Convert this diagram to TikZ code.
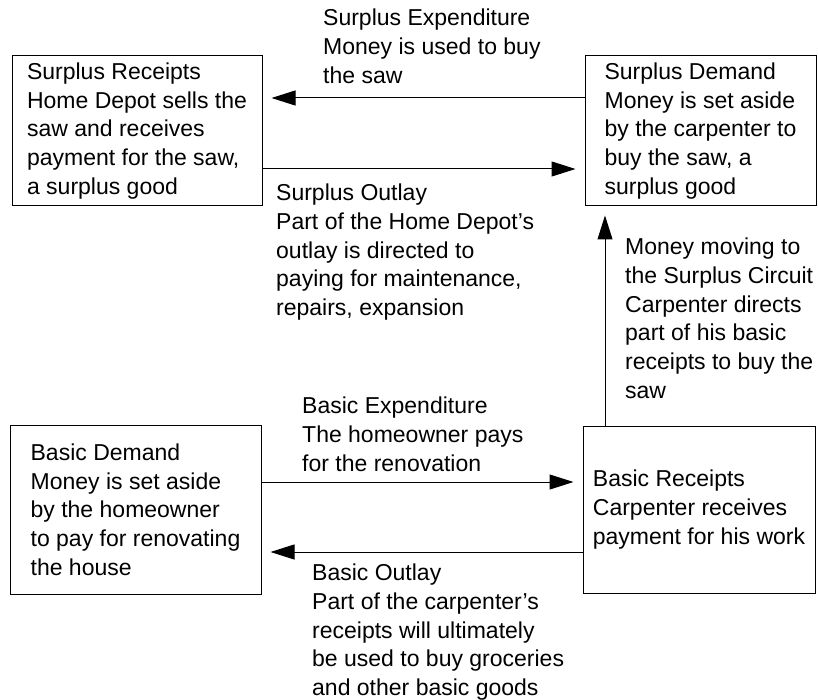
\documentclass[tikz,border=0pt]{standalone}
\usepackage{fontspec}
\setmainfont{Liberation Sans}
\usetikzlibrary{arrows.meta}

\begin{document}
\begin{tikzpicture}[x=1pt, y=-1pt,
    box/.style={draw, line width=1pt, align=left, font=\fontsize{23}{28.7}\selectfont},
    note/.style={anchor=north west, inner sep=0pt, align=left, font=\fontsize{23}{28.7}\selectfont},
    flow/.style={line width=1pt, -{Triangle[length=24pt,width=15pt]}, shorten >=9pt}]
    \useasboundingbox (0,0) rectangle (818,700);

    % Define the four boxes of the two circuits
    \node[box, minimum width=250pt, minimum height=150pt] (sreceipts) at (137,131) {Surplus Receipts\\Home Depot sells the\\saw and receives\\payment for the saw,\\a surplus good};
    \node[box, minimum width=231pt, minimum height=150pt] (sdemand) at (700.5,131) {Surplus Demand\\Money is set aside\\by the carpenter to\\buy the saw, a\\surplus good};
    \node[box, minimum width=251pt, minimum height=169pt] (bdemand) at (135.5,509.5) {Basic Demand\\Money is set aside\\by the homeowner\\to pay for renovating\\the house};
    \node[box, minimum width=232pt, minimum height=167pt] (breceipts) at (699,509.5) {Basic Receipts\\Carpenter receives\\payment for his work};

    % Draw the money flows between the boxes
    \draw[flow] ([yshift=33pt]sdemand.west) -- ([yshift=33pt]sreceipts.east);
    \draw[flow] ([yshift=-38pt]sreceipts.east) -- ([yshift=-38pt]sdemand.west);
    \draw[flow] ([xshift=-94pt]breceipts.north) -- ([xshift=-94pt]breceipts.north |- sdemand.south);
    \draw[flow] ([yshift=27.5pt]bdemand.east) -- ([yshift=27.5pt]breceipts.west);
    \draw[flow] ([yshift=-42.5pt]breceipts.west) -- ([yshift=-42.5pt]bdemand.east);

    % Texts along the flows
    \node[note] (sexp) at (323,9) {Surplus Expenditure\\Money is used to buy\\the saw};
    \node[note] (sout) at (276,184) {Surplus Outlay\\Part of the Home Depot's\\outlay is directed to\\paying for maintenance,\\repairs, expansion};
    \node[note] (move) at (625,238) {Money moving to\\the Surplus Circuit\\Carpenter directs\\part of his basic\\receipts to buy the\\saw};
    \node[note] (bexp) at (302,397) {Basic Expenditure\\The homeowner pays\\for the renovation};
    \node[note] (bout) at (312,564) {Basic Outlay\\Part of the carpenter's\\receipts will ultimately\\be used to buy groceries\\and other basic goods};
\end{tikzpicture}
\end{document}
